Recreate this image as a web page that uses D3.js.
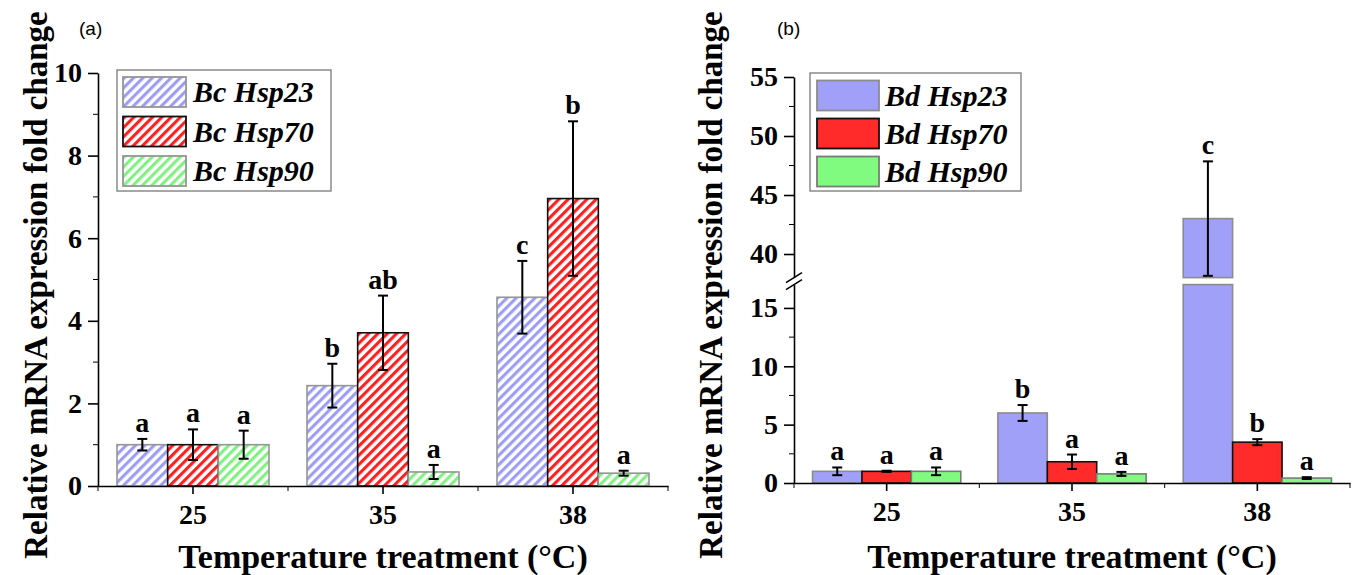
<!DOCTYPE html>
<html>
<head>
<meta charset="utf-8">
<script src="https://cdn.jsdelivr.net/npm/d3@7"></script>
<style>
  body { margin: 0; background: #fff; }
  svg text { font-family: "Liberation Serif", "Times New Roman", serif; font-weight: bold; }
  svg text.tick-lbl { font-size: 28px; }
  svg text.panel-lbl { font-family: "Liberation Sans", Arial, sans-serif; font-weight: normal; font-size: 19px; }
  svg text.legend-txt { font-style: italic; font-size: 30px; }
</style>
</head>
<body>
<svg width="1352" height="575"></svg>
<script>
// категории по оси X
const temps = ["25", "35", "38"];

// панель (a) - Bc
const bcNames = ["Bc Hsp23", "Bc Hsp70", "Bc Hsp90"];
const bcHsp23 = [1.0, 2.43, 4.57];
const bcHsp70 = [1.0, 3.71, 6.96];
const bcHsp90 = [1.0, 0.34, 0.31];
const bcHsp23Err = [0.14, 0.53, 0.88];
const bcHsp70Err = [0.37, 0.90, 1.87];
const bcHsp90Err = [0.34, 0.17, 0.06];
const bcHsp23Sig = ["a", "b", "c"];
const bcHsp70Sig = ["a", "ab", "b"];
const bcHsp90Sig = ["a", "a", "a"];
const bcTicks = [0, 2, 4, 6, 8, 10];
const bcMinor = [1, 3, 5, 7, 9];

// панель (b) - Bd (ось с разрывом 17..38)
const bdNames = ["Bd Hsp23", "Bd Hsp70", "Bd Hsp90"];
const bdHsp23 = [1.0, 6.0, 43.0];
const bdHsp70 = [1.0, 1.82, 3.5];
const bdHsp90 = [1.0, 0.78, 0.42];
const bdHsp23Err = [0.33, 0.68, 4.85];
const bdHsp70Err = [0.05, 0.62, 0.26];
const bdHsp90Err = [0.33, 0.17, 0.08];
const bdHsp23Sig = ["a", "b", "c"];
const bdHsp70Sig = ["a", "a", "b"];
const bdHsp90Sig = ["a", "a", "a"];
const bdTicksLow = [0, 5, 10, 15];
const bdMinorLow = [2.5, 7.5, 12.5];
const bdTicksHigh = [40, 45, 50, 55];
const bdMinorHigh = [42.5, 47.5, 52.5];

const xTitle = "Temperature treatment (°C)";
const yTitle = "Relative mRNA expression fold change";

const svg = d3.select("svg");
const defs = svg.append("defs");

// штриховка для панели (a)
function addHatch(id, color) {
  const s = 6.6;
  const p = defs.append("pattern")
    .attr("id", id)
    .attr("patternUnits", "userSpaceOnUse")
    .attr("width", s)
    .attr("height", s)
    .attr("patternTransform", "rotate(45)");
  p.append("rect").attr("width", s).attr("height", s).attr("fill", "#fff");
  p.append("rect").attr("width", 3.1).attr("height", s).attr("fill", color);
}
addHatch("hatchBlue", "#9d9df5");
addHatch("hatchRed", "#ff1f1f");
addHatch("hatchGreen", "#7ff27f");

const panelA = {
  label: "(a)", labelX: 79,
  x0: 98, x1: 668,
  titleX: 47,
  segments: [
    { domain: [0, 10], range: [486, 73], ticks: bcTicks, minor: bcMinor }
  ],
  names: bcNames,
  values: [bcHsp23, bcHsp70, bcHsp90],
  errs: [bcHsp23Err, bcHsp70Err, bcHsp90Err],
  sigs: [bcHsp23Sig, bcHsp70Sig, bcHsp90Sig],
  fills: ["url(#hatchBlue)", "url(#hatchRed)", "url(#hatchGreen)"],
  strokes: ["#959595", "#111", "#959595"],
  legend: { x: 117, y: 70, w: 214, h: 121, sx: 6, sy: 7, sw: 63, sh: 30, step: 39.5, tx: 76 }
};

const panelB = {
  label: "(b)", labelX: 777,
  x0: 794, x1: 1350,
  titleX: 722,
  segments: [
    { domain: [0, 17], range: [483, 284.6], ticks: bdTicksLow, minor: bdMinorLow },
    { domain: [38, 55], range: [277.6, 77], ticks: bdTicksHigh, minor: bdMinorHigh }
  ],
  names: bdNames,
  values: [bdHsp23, bdHsp70, bdHsp90],
  errs: [bdHsp23Err, bdHsp70Err, bdHsp90Err],
  sigs: [bdHsp23Sig, bdHsp70Sig, bdHsp90Sig],
  fills: ["#a0a0f8", "#ff2a2a", "#80fb80"],
  strokes: ["#8c8c8c", "#111", "#7a7a7a"],
  legend: { x: 810, y: 73, w: 211, h: 118, sx: 7, sy: 7.5, sw: 62, sh: 30, step: 38, tx: 75 }
};

function drawPanel(p) {
  const g = svg.append("g");

  const x = d3.scaleBand()
    .domain(temps)
    .range([p.x0, p.x1])
    .paddingInner(0.2)
    .paddingOuter(0.1);

  const xs = d3.scaleBand()
    .domain(d3.range(p.values.length))
    .range([0, x.bandwidth()]);

  const segs = p.segments.map(s => Object.assign({}, s, {
    y: d3.scaleLinear().domain(s.domain).range(s.range)
  }));
  const yOf = v => {
    const s = segs.find(s => v >= s.domain[0] && v <= s.domain[1]) || segs[0];
    return s.y(v);
  };
  const yBase = segs[0].y(0);

  // таблица столбцов
  let rows = [];
  p.values.forEach((vals, i) => {
    vals.forEach((v, j) => {
      rows.push({ i, temp: temps[j], v, e: p.errs[i][j], sig: p.sigs[i][j] });
    });
  });

  // столбцы (по сегментам оси)
  segs.forEach(s => {
    g.selectAll(null)
      .data(rows.filter(d => d.v > s.domain[0]))
      .enter()
      .append("rect")
      .attr("x", d => x(d.temp) + xs(d.i))
      .attr("width", xs.bandwidth())
      .attr("y", d => s.y(Math.min(d.v, s.domain[1])))
      .attr("height", d => s.y(s.domain[0]) - s.y(Math.min(d.v, s.domain[1])))
      .attr("fill", d => p.fills[d.i])
      .attr("stroke", d => p.strokes[d.i])
      .attr("stroke-width", 1.6);
  });

  // планки погрешностей
  const cx = d => x(d.temp) + xs(d.i) + xs.bandwidth() / 2;
  const eb = g.selectAll(".err")
    .data(rows)
    .enter()
    .append("g")
    .attr("stroke", "#000")
    .attr("stroke-width", 2);
  eb.append("line")
    .attr("x1", cx).attr("x2", cx)
    .attr("y1", d => yOf(d.v - d.e))
    .attr("y2", d => yOf(d.v + d.e));
  eb.append("line")
    .attr("x1", d => cx(d) - 5).attr("x2", d => cx(d) + 5)
    .attr("y1", d => yOf(d.v + d.e))
    .attr("y2", d => yOf(d.v + d.e));
  eb.append("line")
    .attr("x1", d => cx(d) - 5).attr("x2", d => cx(d) + 5)
    .attr("y1", d => yOf(d.v - d.e))
    .attr("y2", d => yOf(d.v - d.e));

  // буквы значимости
  g.selectAll(".sig")
    .data(rows)
    .enter()
    .append("text")
    .attr("class", "tick-lbl")
    .attr("x", cx)
    .attr("y", d => yOf(d.v + d.e) - 7)
    .attr("text-anchor", "middle")
    .text(d => d.sig);

  // ось X
  const axX = g.append("g")
    .attr("transform", `translate(0, ${yBase})`)
    .call(d3.axisBottom(x).tickSize(8).tickSizeOuter(0).tickPadding(10));
  const bounds = [p.x0].concat(temps.map(t => x(t) + x.bandwidth() + x.step() * x.paddingOuter()));
  axX.selectAll(".minor")
    .data(bounds)
    .enter()
    .append("line")
    .attr("x1", d => d).attr("x2", d => d)
    .attr("y1", 0).attr("y2", 5)
    .attr("stroke", "#000");
  axX.selectAll("text").attr("class", "tick-lbl");

  // ось Y (один или два сегмента)
  segs.forEach(s => {
    const ay = g.append("g")
      .attr("transform", `translate(${p.x0}, 0)`)
      .call(d3.axisLeft(s.y).tickValues(s.ticks).tickSize(10).tickSizeOuter(0).tickPadding(6));
    ay.selectAll("text").attr("class", "tick-lbl");
    ay.selectAll(".minor")
      .data(s.minor)
      .enter()
      .append("line")
      .attr("x1", -5).attr("x2", 0)
      .attr("y1", d => s.y(d)).attr("y2", d => s.y(d))
      .attr("stroke", "#000");
  });
  g.selectAll(".domain, .tick line, .minor").attr("stroke-width", 1.6);

  // знак разрыва оси
  if (segs.length > 1) {
    const yb = segs[1].range[0], ya = segs[0].range[1];
    [yb, ya].forEach(yy => {
      g.append("line")
        .attr("x1", p.x0 - 8).attr("x2", p.x0 + 8)
        .attr("y1", yy + 5).attr("y2", yy - 5)
        .attr("stroke", "#000").attr("stroke-width", 1.6);
    });
  }

  // подписи осей
  g.append("text")
    .attr("x", (p.x0 + p.x1) / 2)
    .attr("y", 568)
    .attr("text-anchor", "middle")
    .attr("font-size", 34)
    .text(xTitle);

  g.append("text")
    .attr("transform", `translate(${p.titleX}, 285) rotate(-90)`)
    .attr("text-anchor", "middle")
    .attr("font-size", 33)
    .text(yTitle);

  g.append("text")
    .attr("class", "panel-lbl")
    .attr("x", p.labelX)
    .attr("y", 35)
    .text(p.label);

  // легенда
  const L = p.legend;
  const lg = g.append("g").attr("transform", `translate(${L.x}, ${L.y})`);
  lg.append("rect")
    .attr("width", L.w).attr("height", L.h)
    .attr("fill", "#fff").attr("stroke", "#8a8a8a").attr("stroke-width", 1.5);
  const items = lg.selectAll(".item")
    .data(p.names)
    .enter()
    .append("g")
    .attr("transform", (d, i) => `translate(${L.sx}, ${L.sy + i * L.step})`);
  items.append("rect")
    .attr("width", L.sw).attr("height", L.sh)
    .attr("fill", (d, i) => p.fills[i])
    .attr("stroke", (d, i) => p.strokes[i])
    .attr("stroke-width", 1.8);
  items.append("text")
    .attr("class", "legend-txt")
    .attr("x", L.tx - L.sx)
    .attr("y", L.sh / 2 + 10)
    .text(d => d);
}

drawPanel(panelA);
drawPanel(panelB);
</script>
</body>
</html>
